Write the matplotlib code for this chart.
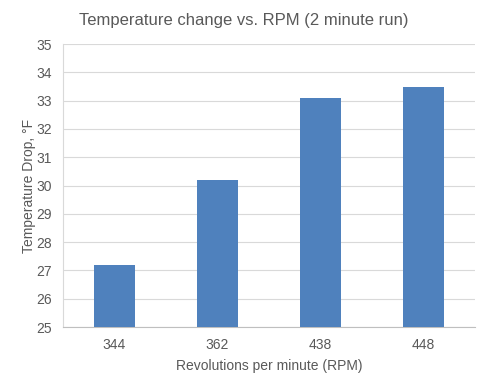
import matplotlib
matplotlib.use('Agg')
import matplotlib.pyplot as plt

# 資料
rpm_labels = ['344', '362', '438', '448']
temp_drop = [27.2, 30.2, 33.1, 33.5]
y_ticks = list(range(25, 36))

plt.rcParams['font.family'] = ['Liberation Sans', 'DejaVu Sans']
text_color = '#595959'

fig = plt.figure(figsize=(4.88, 3.87), dpi=100)
ax = fig.add_axes([0.129, 0.155, 0.844, 0.731])

x = range(len(rpm_labels))
ax.bar(x, temp_drop, width=0.4, bottom=0, color='#4F81BD', zorder=3)
ax.set_xlim(-0.5, len(rpm_labels) - 0.5)
ax.set_ylim(25, 35)
ax.set_yticks(y_ticks)
ax.set_xticks(list(x))
ax.set_xticklabels(rpm_labels)

ax.grid(axis='y', color='#D9D9D9', linewidth=0.8, zorder=0)
for side in ['top', 'right']:
    ax.spines[side].set_visible(False)
ax.spines['left'].set_color('#D9D9D9')
ax.spines['bottom'].set_color('#BFBFBF')
ax.tick_params(length=0, colors=text_color, labelsize=10, pad=8)

# 標題置中於整張圖
fig.text(0.5, 0.948, 'Temperature change vs. RPM (2 minute run)', fontsize=12,
         color=text_color, ha='center', va='center')
ax.set_xlabel('Revolutions per minute (RPM)', fontsize=10, color=text_color, labelpad=5)
ax.set_ylabel('Temperature Drop, °F', fontsize=10, color=text_color, labelpad=0)

fig.savefig('out.png', dpi=100)
